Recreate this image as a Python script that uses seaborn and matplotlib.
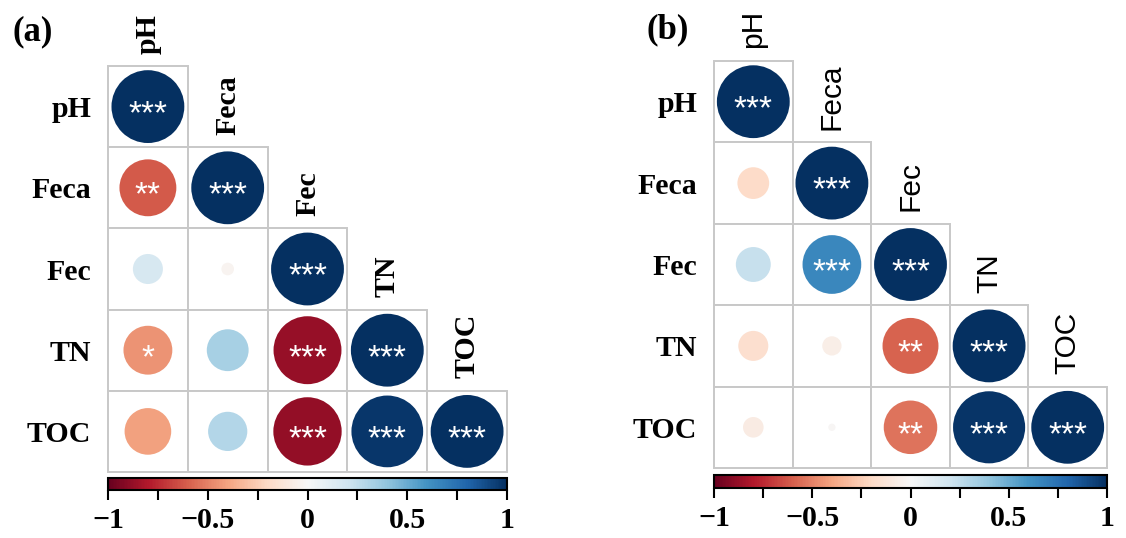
import numpy as np
import pandas as pd
import matplotlib
matplotlib.use("Agg")
import matplotlib.pyplot as plt
import matplotlib as mpl
from matplotlib.colors import Normalize
from matplotlib.patches import Rectangle
import seaborn as sns

sns.set_theme(style="white")
plt.rcParams["font.family"] = ["Liberation Serif", "DejaVu Serif"]
plt.rcParams["text.color"] = "black"
plt.rcParams["xtick.color"] = "black"
plt.rcParams["ytick.color"] = "black"
plt.rcParams["xtick.labelcolor"] = "black"
plt.rcParams["ytick.labelcolor"] = "black"

variables = ["pH", "Feca", "Fec", "TN", "TOC"]

# lower-triangle correlation values (row by row, including diagonal)
r_a = [
    [1.00],
    [-0.61, 1.00],
    [0.17, -0.03, 1.00],
    [-0.45, 0.33, -0.87, 1.00],
    [-0.41, 0.29, -0.88, 0.97, 1.00],
]
stars_a = [
    ["***"],
    ["**", "***"],
    ["", "", "***"],
    ["*", "", "***", "***"],
    ["", "", "***", "***", "***"],
]
r_b = [
    [1.00],
    [-0.19, 1.00],
    [0.23, 0.65, 1.00],
    [-0.17, -0.07, -0.59, 1.00],
    [-0.08, -0.01, -0.54, 0.98, 1.00],
]
stars_b = [
    ["***"],
    ["", "***"],
    ["", "***", "***"],
    ["", "", "**", "***"],
    ["", "", "**", "***", "***"],
]
cbar_ticks = [-1, -0.5, 0, 0.5, 1]
cbar_labels = ["\u22121", "\u22120.5", "0", "0.5", "1"]
cbar_minor = [-0.75, -0.25, 0.25, 0.75]

fig = plt.figure(figsize=(11.26, 5.38), dpi=100)

panels = [
    dict(r=r_a, stars=stars_a, tag="(a)",
         ax=[108/1126, (538-472)/538, 399/1126, 406/538],
         cax=[108/1126, (538-490)/538, 399/1126, 12/538],
         tagpos=(12/1126, 1-32/538), colfont=dict(family="Liberation Serif", weight="bold")),
    dict(r=r_b, stars=stars_b, tag="(b)",
         ax=[714/1126, (538-468)/538, 393/1126, 407/538],
         cax=[714/1126, (538-488)/538, 393/1126, 13/538],
         tagpos=(646/1126, 1-30/538), colfont=dict(family="Liberation Sans", weight="normal")),
]

n = len(variables)
cmap = plt.get_cmap("RdBu")
norm = Normalize(-1, 1)

for p in panels:
    ax = fig.add_axes(p["ax"])
    rows = []
    for i, row in enumerate(p["r"]):
        for j, v in enumerate(row):
            rows.append(dict(x=j + 0.5, y=i + 0.5, r=v, absr=abs(v), star=p["stars"][i][j]))
    df = pd.DataFrame(rows)

    # grid cells of the lower triangle
    for _, rr in df.iterrows():
        ax.add_patch(Rectangle((rr["x"] - 0.5, rr["y"] - 0.5), 1, 1, facecolor="white",
                               edgecolor="#c8c8c8", linewidth=1.4, zorder=1, clip_on=False))

    sns.scatterplot(data=df, x="x", y="y", hue="r", palette="RdBu", hue_norm=(-1, 1),
                    size="absr", sizes=(0, 2750), size_norm=(0, 1), legend=False,
                    linewidth=0, ax=ax, zorder=3, clip_on=False)
    for _, rr in df.iterrows():
        if rr["star"]:
            ax.text(rr["x"], rr["y"] + 0.1, rr["star"], ha="center", va="center",
                    color="white", fontsize=24, family="Liberation Sans", zorder=4)

    ax.set_xlim(0, n)
    ax.set_ylim(n, 0)
    ax.set_xlabel("")
    ax.set_ylabel("")
    for s in ax.spines.values():
        s.set_visible(False)
    ax.set_xticks([])
    ax.set_yticks(np.arange(n) + 0.5)
    ax.tick_params(axis="y", length=0, pad=12)
    ax.set_yticklabels(variables, rotation=0, fontsize=21.5, fontweight="bold",
                       family="Liberation Serif", color="black")
    for j, lab in enumerate(variables):
        ax.annotate(lab, xy=(j + 0.5, j), xytext=(0, 9), textcoords="offset points",
                    rotation=90, ha="center", va="bottom", fontsize=21.5,
                    color="black", annotation_clip=False, **p["colfont"])

    cax = fig.add_axes(p["cax"])
    cb = fig.colorbar(mpl.cm.ScalarMappable(norm=norm, cmap=cmap), cax=cax,
                      orientation="horizontal")
    cb.set_ticks(cbar_ticks)
    cb.set_ticklabels(cbar_labels)
    cax.set_xticks(cbar_minor, minor=True)
    cax.tick_params(axis="x", which="both", direction="out", length=7, width=1.5,
                    color="black", pad=5, bottom=True)
    cax.tick_params(axis="x", which="major", labelsize=21.5, labelcolor="black")
    for t in cax.get_xticklabels():
        t.set_fontweight("bold")
        t.set_family("Liberation Serif")
    cb.outline.set_linewidth(1.5)
    cb.outline.set_edgecolor("black")

    fig.text(p["tagpos"][0], p["tagpos"][1], p["tag"], ha="left", va="center",
             fontsize=25, fontweight="bold", family="Liberation Serif", color="black")

fig.savefig("out.png", dpi=100)
